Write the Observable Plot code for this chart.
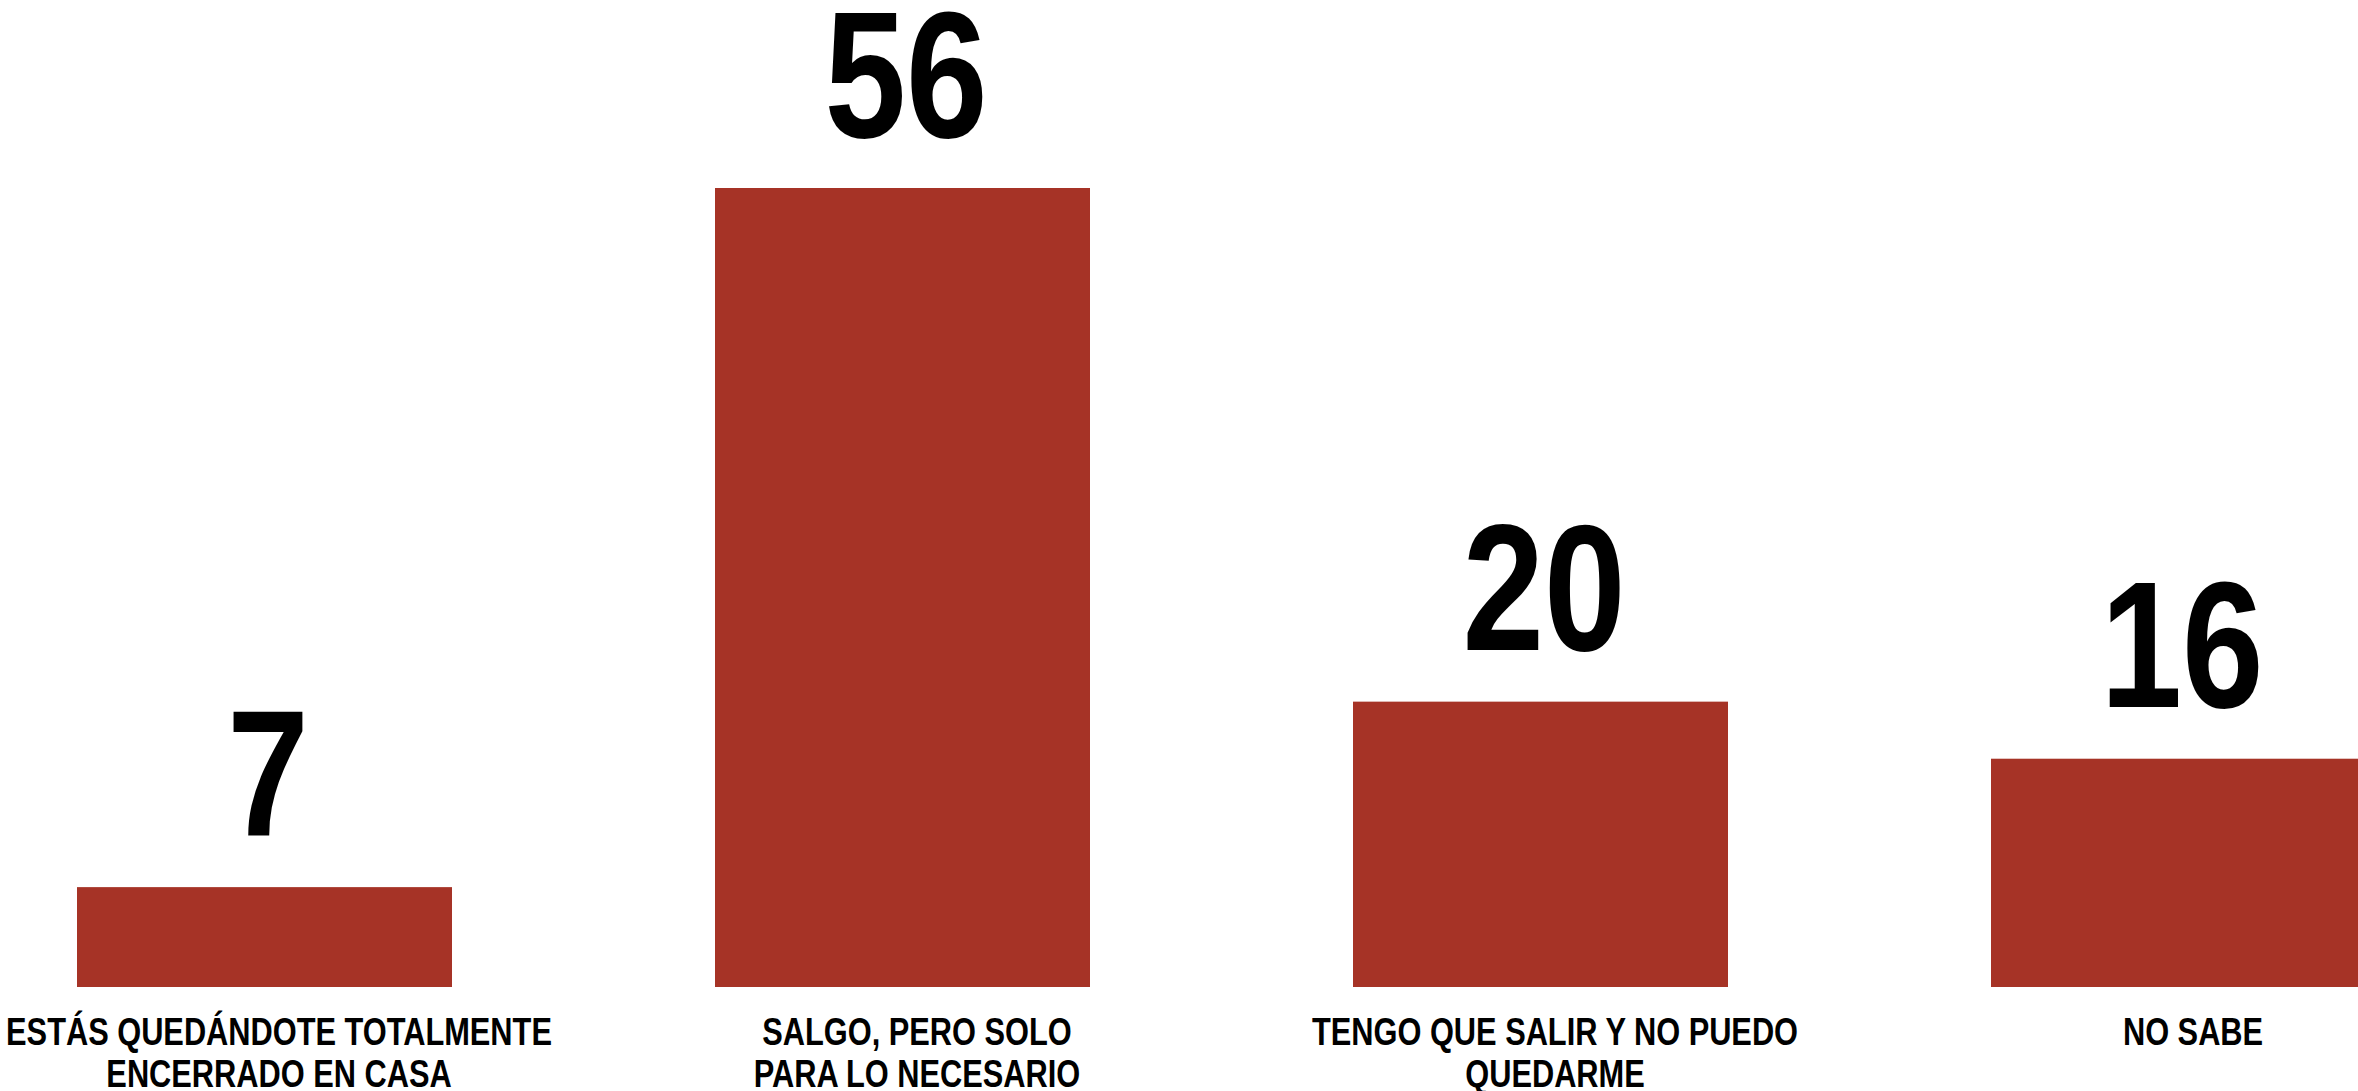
<!DOCTYPE html>
<html>
<head>
<meta charset="utf-8">
<script src="https://cdn.jsdelivr.net/npm/d3@7"></script>
<script src="https://cdn.jsdelivr.net/npm/@observablehq/plot@0.6"></script>
<style>
  html, body { margin: 0; padding: 0; background: #fff; overflow: hidden; }
  #chart svg { display: block; }
</style>
</head>
<body>
<div id="chart"></div>
<script>
const categories = [
  "ESTÁS QUEDÁNDOTE TOTALMENTE ENCERRADO EN CASA",
  "SALGO, PERO SOLO PARA LO NECESARIO",
  "TENGO QUE SALIR Y NO PUEDO QUEDARME",
  "NO SABE"
];
const labels = [
  "ESTÁS QUEDÁNDOTE TOTALMENTE\nENCERRADO EN CASA",
  "SALGO, PERO SOLO\nPARA LO NECESARIO",
  "TENGO QUE SALIR Y NO PUEDO\nQUEDARME",
  "NO SABE"
];
const values = [7, 56, 20, 16];

const data = categories.map((c, i) => ({category: c, label: labels[i], value: values[i]}));

const font = "'Liberation Sans Narrow', 'Arial Narrow', 'Liberation Sans', Arial, sans-serif";

const chart = Plot.plot({
  width: 2358,
  height: 1091,
  margin: 0,
  style: {background: "#fff", fontFamily: font, overflow: "hidden"},
  x: {domain: categories, range: [0, 2443], paddingInner: 0.4116, paddingOuter: 0.1174, align: 0.5, axis: null},
  y: {domain: [0, 56], range: [987, 188], axis: null},
  marks: [
    Plot.barY(data, {x: "category", y: "value", fill: "#A63326"}),
    Plot.text(data, {x: "category", y: "value", text: d => String(d.value), lineAnchor: "bottom", dy: -52, dx: 3, fontSize: 181, fontWeight: "bold", fill: "#000", className: "narrow"}),
    Plot.text(data, {x: "category", y: 0, text: "label", lineAnchor: "top", dy: 28, dx: 14, fontSize: 38, lineHeight: 1.1, fontWeight: "bold", fill: "#000", className: "narrow"})
  ]
});
document.getElementById("chart").appendChild(chart);

// Condense the bold sans glyphs horizontally (no narrow font is installed)
d3.select(chart).selectAll("g.narrow text").each(function() {
  const t = this.getAttribute("transform");
  if (t) {
    this.setAttribute("transform", t + " scale(0.81,1)");
  } else {
    const x = +this.getAttribute("x") || 0, y = +this.getAttribute("y") || 0;
    this.removeAttribute("x"); this.removeAttribute("y");
    this.setAttribute("transform", `translate(${x},${y}) scale(0.81,1)`);
  }
});
</script>
</body>
</html>
